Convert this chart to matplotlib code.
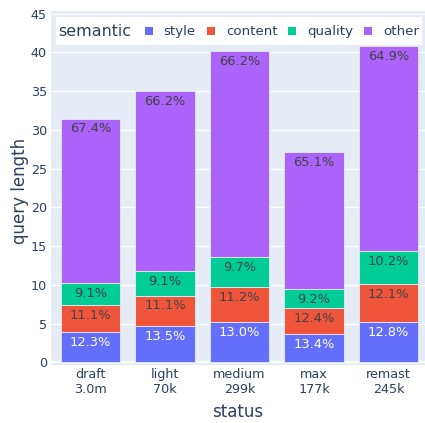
import matplotlib
matplotlib.use("Agg")
import matplotlib.pyplot as plt
from matplotlib.patches import Rectangle

plt.rcParams["font.family"] = ["DejaVu Sans"]

# data
statuses = ["draft\n3.0m", "light\n70k", "medium\n299k", "max\n177k", "remast\n245k"]
style = [3.87, 4.73, 5.23, 3.63, 5.22]
content = [3.50, 3.89, 4.50, 3.36, 4.94]
quality = [2.87, 3.19, 3.90, 2.49, 4.16]
other = [21.23, 23.17, 26.60, 17.64, 26.48]

style_lbl = ["12.3%", "13.5%", "13.0%", "13.4%", "12.8%"]
content_lbl = ["11.1%", "11.1%", "11.2%", "12.4%", "12.1%"]
quality_lbl = ["9.1%", "9.1%", "9.7%", "9.2%", "10.2%"]
other_lbl = ["67.4%", "66.2%", "66.2%", "65.1%", "64.9%"]

series = [
    ("style", style, style_lbl, "#636EFA", "white"),
    ("content", content, content_lbl, "#EF553B", "#444444"),
    ("quality", quality, quality_lbl, "#00CC96", "#444444"),
    ("other", other, other_lbl, "#AB63FA", "#444444"),
]
FONT_C = "#2a3f5f"

W, H = 425, 423
fig = plt.figure(figsize=(W / 100, H / 100), dpi=100)
ax = fig.add_axes([51 / W, (H - 365) / H, (425 - 51) / W, (365 - 11) / H])
ax.set_facecolor("#E5ECF6")
for s in ax.spines.values():
    s.set_visible(False)

x = list(range(len(statuses)))
bottom = [0.0] * len(statuses)
for name, vals, lbls, col, tcol in series:
    bars = ax.bar(x, vals, width=0.8, bottom=bottom, color=col,
                  edgecolor="#E5ECF6", linewidth=0.6, zorder=3)
    for i, b in enumerate(bars):
        top = bottom[i] + vals[i]
        ax.annotate(lbls[i], (x[i], top), xytext=(0, -7.5), textcoords="offset points",
                    ha="center", va="center", fontsize=9.4, color=tcol, zorder=4)
    bottom = [bottom[i] + vals[i] for i in range(len(vals))]

ax.set_xlim(-0.53, 4.49)
ax.set_ylim(-0.35, 45.35)
ax.set_yticks(range(0, 46, 5))
ax.grid(axis="y", color="white", linewidth=1.0, zorder=0)
ax.axhline(0, color="white", linewidth=1.6, zorder=1)
ax.set_xticks(x)
ax.set_xticklabels(statuses, linespacing=1.25)
ax.tick_params(axis="both", length=0, labelsize=9.2, colors=FONT_C, pad=3)
ax.tick_params(axis="x", pad=2)


# figure-pixel helper (top-left origin)
def px(xp, yp):
    return xp / W, 1 - yp / H


fig.text(*px(238, 412), "status", fontsize=12, color=FONT_C, ha="center", va="center")
fig.text(*px(20, 191), "query length", fontsize=12, color=FONT_C, ha="center",
         va="center", rotation=90)

# plotly-style horizontal legend
lx0, ly0 = px(56, 45)
lx1, ly1 = px(422, 17)
fig.add_artist(Rectangle((lx0, ly0), lx1 - lx0, ly1 - ly0, transform=fig.transFigure,
                         facecolor="white", edgecolor="none", zorder=5))
cy = 31.5
fig.text(*px(58, cy), "semantic", fontsize=11.4, color=FONT_C, ha="left", va="center", zorder=6)
leg_pos = [(145, 163), (207, 226), (288, 307), (364, 383)]
for (name, _, _, col, _), (sx, tx) in zip(series, leg_pos):
    rx, ry = px(sx, cy + 4)
    fig.add_artist(Rectangle((rx, ry), 8 / W, 8 / H, transform=fig.transFigure,
                             facecolor=col, edgecolor="none", zorder=6))
    fig.text(*px(tx, cy), name, fontsize=9.6, color=FONT_C, ha="left", va="center", zorder=6)

fig.savefig("out.png", dpi=100)
